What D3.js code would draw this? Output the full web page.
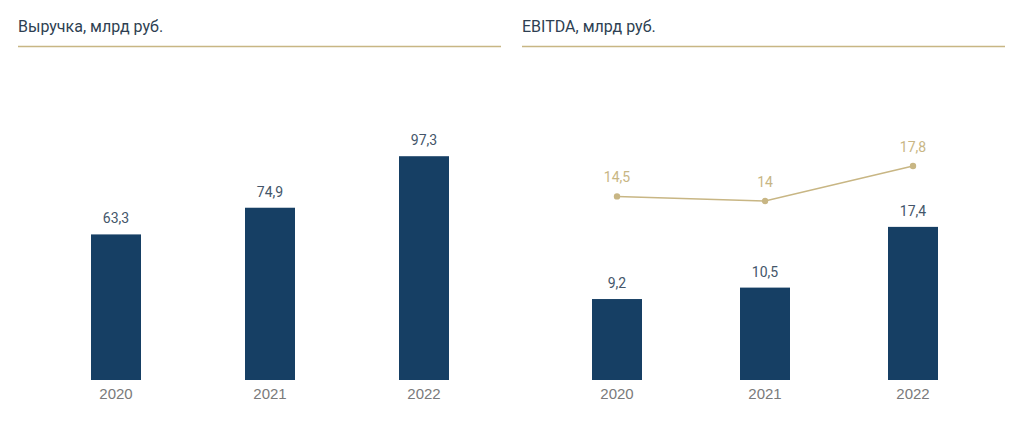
<!DOCTYPE html>
<html><head><meta charset="utf-8">
<script src="https://cdn.jsdelivr.net/npm/d3@7"></script>
<style>body{margin:0;background:#fff}svg{display:block}</style>
</head><body>
<svg id="c" width="1024" height="431"></svg>
<script>
const years = ["2020","2021","2022"];
const revenue = [63.3, 74.9, 97.3];
const revenueLabels = ["63,3","74,9","97,3"];
const ebitda = [9.2, 10.5, 17.4];
const ebitdaLabels = ["9,2","10,5","17,4"];
const margin = [14.5, 14, 17.8];
const marginLabels = ["14,5","14","17,8"];
const titles = ["Выручка, млрд руб.", "EBITDA, млрд руб."];

const svg = d3.select("#c");
const BAR = "#163f64", GOLD = "#c8b684", TXT = "#44566a";

function panel(o) {
  const g = svg.append("g");
  g.append("text").attr("x", o.x0).attr("y", 32).text(o.title)
    .attr("font-family","Roboto, sans-serif").attr("font-size",16).attr("fill","#2e3f52");
  g.append("line").attr("x1",o.x0).attr("x2",o.x1).attr("y1",46.5).attr("y2",46.5)
    .attr("stroke",GOLD).attr("stroke-width",1.5);
  const x = d3.scaleBand().domain(years).range(o.xRange).paddingInner(o.pad).paddingOuter(o.pad/2);
  const y = d3.scaleLinear().domain(o.yDomain).range([380, o.yTop]);
  const ax = g.append("g").attr("transform","translate(0,380)").call(d3.axisBottom(x).tickSize(0).tickPadding(8));
  ax.select(".domain").remove();
  ax.selectAll("text").attr("font-family","'Liberation Sans', Arial, sans-serif").attr("font-size",15).attr("fill","#7a7a7a");
  const cx = (d,i)=>x(years[i])+x.bandwidth()/2;
  g.selectAll("rect.b").data(o.vals).join("rect").attr("class","b")
    .attr("x",(d,i)=>x(years[i])).attr("width",x.bandwidth())
    .attr("y",d=>y(d)).attr("height",d=>380-y(d)).attr("fill",BAR);
  g.selectAll("text.v").data(o.vals).join("text").attr("class","v")
    .attr("x",cx).attr("y",d=>y(d)-11)
    .attr("text-anchor","middle").attr("font-family","Roboto, sans-serif").attr("font-size",14)
    .attr("fill",TXT).text((d,i)=>o.labels[i]);
  if (o.line) {
    const y2 = d3.scaleLinear().domain(o.y2Domain).range(o.y2Range);
    g.append("path").datum(o.line).attr("fill","none").attr("stroke",GOLD).attr("stroke-width",1.5)
      .attr("d", d3.line().x(cx).y(d=>y2(d)));
    g.selectAll("circle").data(o.line).join("circle").attr("cx",cx).attr("cy",d=>y2(d)).attr("r",3.2).attr("fill",GOLD);
    g.selectAll("text.m").data(o.line).join("text").attr("class","m")
      .attr("x",cx).attr("y",d=>y2(d)-14).attr("text-anchor","middle")
      .attr("font-family","Roboto, sans-serif").attr("font-size",14).attr("fill",GOLD)
      .text((d,i)=>o.lineLabels[i]);
  }
}
panel({x0:18, x1:501, title:titles[0], vals:revenue, labels:revenueLabels,
  xRange:[39,501], pad:104/154, yDomain:[0,100], yTop:150});
panel({x0:522, x1:1005, title:titles[1], vals:ebitda, labels:ebitdaLabels,
  xRange:[543,987], pad:98/148, yDomain:[0,20], yTop:204,
  line:margin, lineLabels:marginLabels, y2Domain:[14,17.8], y2Range:[201,166]});
</script>
</body></html>
